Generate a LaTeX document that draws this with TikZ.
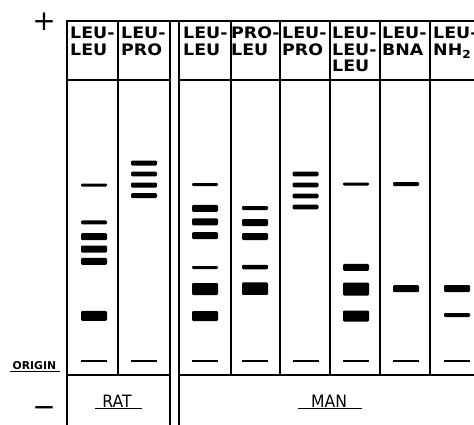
\documentclass[tikz,border=0pt]{standalone}
\usepackage{fontspec}
\setmainfont{DejaVu Sans}
\newfontfamily\hdrfont{DejaVu Sans}[FakeStretch=1.1]
\newfontfamily\grpfont{DejaVu Sans}[FakeStretch=0.92]
\tikzset{
  frame/.style={line width=1.8pt, line cap=rect},
  hdr/.style={anchor=north west, inner sep=0pt, align=left,
    font=\hdrfont\bfseries\fontsize{15.8}{16.5}\selectfont},
  bandfill/.style={fill=black, rounded corners=1.2pt},
  grp/.style={anchor=base, inner sep=0pt, font=\grpfont\fontsize{17}{19}\selectfont},
  uline/.style={line width=1.5pt},
  sign/.style={anchor=base, inner sep=0pt, font=\fontsize{28}{30}\selectfont}
}
\newcommand\lanebands[2]{%
  \foreach \yy/\hh in {#2} {%
    \fill[bandfill] ({#1-13},{\yy-\hh/2}) rectangle ({#1+13},{\yy+\hh/2});}}
\begin{document}
\begin{tikzpicture}[x=1pt,y=-1pt]
\useasboundingbox (0,0) rectangle (474,424);
\clip (0,0) rectangle (474,424);
% frame
\draw[frame] (67,430) -- (67,21) -- (480,21);
\foreach \x in {170,179} \draw[frame] (\x,21) -- (\x,430);
\foreach \x in {118,231,280,330,380,430} \draw[frame] (\x,21) -- (\x,375);
\draw[frame] (67,80) -- (170,80) (179,80) -- (480,80);
\draw[frame] (67,375) -- (170,375) (179,375) -- (480,375);
% headers
\node[hdr] (h1) at (70,27) {LEU-\\LEU};
\node[hdr] (h2) at (121,27) {LEU-\\PRO};
\node[hdr] (h3) at (183,27) {LEU-\\LEU};
\node[hdr] (h4) at (231,27) {PRO-\\LEU};
\node[hdr] (h5) at (282,27) {LEU-\\PRO};
\node[hdr] (h6) at (332,27) {LEU-\\LEU-\\LEU};
\node[hdr] (h7) at (382,27) {LEU-\\BNA};
\node[hdr] (h8) at (433,27) {LEU-\\NH\textsubscript{2}};
% bands
\lanebands{94}{185/3, 222.3/4, 236.7/7, 249/7, 261.3/7, 315.8/10}
\lanebands{144}{163/5, 174/4.6, 185/5, 195.6/5}
\lanebands{205}{184.5/3, 208.3/7, 221.8/7, 235.6/7, 267.5/3, 289/12, 316/10}
\lanebands{255}{208/4, 222.5/7, 236.5/7, 267/4.5, 288.7/12.5}
\lanebands{305.5}{174/4.6, 185/4.6, 196/4.6, 207/4.6}
\lanebands{356}{184/3, 267.3/7, 289/13, 316/11}
\lanebands{406}{184/4, 288.7/7}
\lanebands{457}{288.5/7, 315/4}
\foreach \c in {94,144,205,255,305.5,356,406,457}
  \fill ({\c-13},360.2) rectangle ({\c+13},361.9);
% labels
\node[anchor=base west, inner sep=0pt, font=\bfseries\fontsize{10.8}{12}\selectfont] (origin) at (12.5,369.5) {ORIGIN};
\draw[line width=1.3pt] (10,371.8) -- (60,371.8);
\node[grp] (rat) at (117,407.2) {RAT};
\draw[uline] (95,408.6) -- (142,408.6);
\node[grp] (man) at (329,407.2) {MAN};
\draw[uline] (298,408.6) -- (362,408.6);
\node[sign] (plus) at (44,30.7) {+};
\node[sign] (minus) at (44,416.7) {−};
\end{tikzpicture}
\end{document}
